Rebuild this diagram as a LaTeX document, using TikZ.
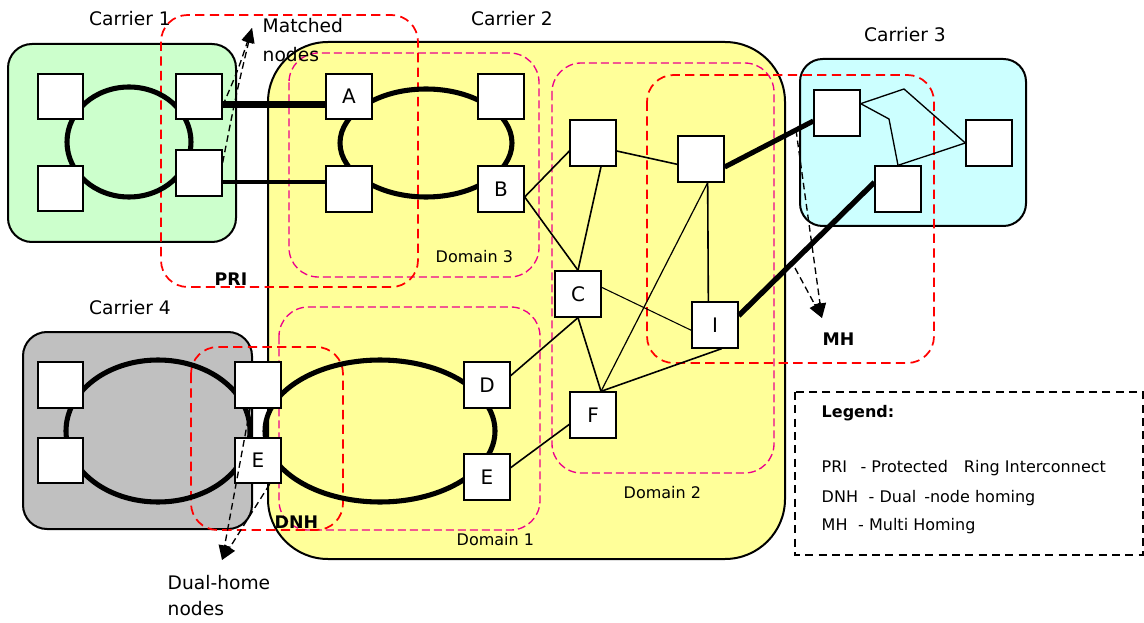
\documentclass[tikz,border=0pt]{standalone}
\usepackage{fontspec}
\setmainfont{DejaVu Sans}
\usetikzlibrary{arrows.meta}

\definecolor{carrgreen}{HTML}{CCFFCC}
\definecolor{carryellow}{HTML}{FFFF99}
\definecolor{carrcyan}{HTML}{CCFFFF}
\definecolor{carrgray}{HTML}{C0C0C0}

\tikzset{
	carrier/.style={draw, line width=1.5pt},
	sq/.style={draw, fill=white, line width=1.5pt, minimum size=34pt, inner sep=0pt, font=\fontsize{15}{17}\selectfont},
	ring/.style={line width=3.8pt},
	link/.style={line width=1.2pt},
	domainbox/.style={draw=magenta, line width=1pt, dash pattern=on 6pt off 3pt, rounded corners=22pt},
	zonebox/.style={draw=red, line width=1.3pt, dash pattern=on 7pt off 4pt, rounded corners=20pt},
	dasharr/.style={dash pattern=on 5pt off 3pt, line width=1pt, -{Triangle[length=11pt,width=9pt]}},
	lbl/.style={font=\fontsize{14}{17}\selectfont},
	dlbl/.style={font=\fontsize{12}{14}\selectfont},
	blbl/.style={font=\bfseries\fontsize{13}{15}\selectfont},
	leg/.style={font=\fontsize{12}{14}\selectfont, anchor=base west},
}
\newcommand{\sqnode}[4]{   % name, x, y, text
	\node[sq] (#1) at (#2, #3) {#4};
}

\begin{document}
\begin{tikzpicture}[x=0.75pt, y=-0.75pt]
\useasboundingbox (0,0) rectangle (1144,623);

% carriers
\draw[carrier, fill=carrgreen, rounded corners=18pt] (8,44) rectangle (236,242);
\draw[carrier, fill=carryellow, rounded corners=45pt] (268,42) rectangle (785,559);
\draw[carrier, fill=carrcyan, rounded corners=17pt] (800,59) rectangle (1026,226);
\draw[carrier, fill=carrgray, rounded corners=18pt] (23,332) rectangle (252,529);
\node[lbl, anchor=base] (lcar1) at (130,26) {Carrier 1};
\node[lbl, anchor=base] (lcar2) at (512,26) {Carrier 2};
\node[lbl, anchor=base] (lcar3) at (905,42) {Carrier 3};
\node[lbl, anchor=base] (lcar4) at (130,314) {Carrier 4};

% domains
\draw[domainbox] (289,53) rectangle (539,277);
\draw[domainbox] (552,63) rectangle (774,473);
\draw[domainbox] (279,307) rectangle (540,530);
\node[dlbl, anchor=base west] (ldom3) at (431,263) {Domain 3};
\node[dlbl, anchor=base west] (ldom2) at (619,498) {Domain 2};
\node[dlbl, anchor=base west] (ldom1) at (452,545) {Domain 1};

% PRI, MH, DNH
\draw[zonebox] (161,15) rectangle (418,287);
\draw[zonebox] (647,75) rectangle (934,363);
\draw[zonebox] (191,347) rectangle (343,530);
\node[blbl, anchor=base west] (lpri) at (210,286) {PRI};
\node[blbl, anchor=base west] (lmh) at (818,345) {MH};
\node[blbl, anchor=base west] (ldnh) at (270,528) {DNH};

% rings
\draw[ring] (129,142) ellipse [x radius=46.5pt, y radius=41.25pt];
\draw[ring] (426,143) ellipse [x radius=64.5pt, y radius=40.5pt];
\draw[ring] (158,431) ellipse [x radius=69pt, y radius=53.25pt];
\draw[ring] (380,431) ellipse [x radius=86.25pt, y radius=53.25pt];

% nodes
\sqnode{c1nw}{60.5}{96.5}{}
\sqnode{c1sw}{60.5}{188.5}{}
\sqnode{c1ne}{199}{96.5}{}
\sqnode{c1se}{199}{173}{}
\sqnode{nA}{349}{96.5}{A}
\sqnode{c2ne}{501}{96.5}{}
\sqnode{c2sw}{349}{189}{}
\sqnode{nB}{501}{189}{B}
\sqnode{g1}{593}{143}{}
\sqnode{g2}{701}{159}{}
\sqnode{nC}{578}{294}{C}
\sqnode{nI}{715}{325}{I}
\sqnode{nF}{593}{415}{F}
\sqnode{nD}{487}{385}{D}
\sqnode{nE}{487}{477}{E}
\sqnode{c3a}{837}{113}{}
\sqnode{c3b}{989}{143}{}
\sqnode{c3c}{898}{189}{}
\sqnode{c4nw}{60.5}{385}{}
\sqnode{c4sw}{60.5}{460.5}{}
\sqnode{c4ne}{258}{385}{}
\sqnode{nE4}{258}{460.5}{E}

% links
\draw[line width=5pt] ([yshift=-6pt]c1ne.east) -- ([yshift=-6pt]nA.west);
\draw[line width=3pt] ([yshift=-7pt]c1se.east) -- ([yshift=5pt]c2sw.west);
\draw[link] ([yshift=-6pt]nB.east) -- ([yshift=-6pt]g1.west);
\draw[link] ([yshift=-6pt]nB.east) -- (nC.north);
\draw[link] ([xshift=6pt]g1.south) -- (nC.north);
\draw[link] ([yshift=-6pt]g1.east) -- ([yshift=-4pt]g2.west);
\draw[line width=0.9pt] ([xshift=5pt]g2.south) -- ([xshift=6pt]nF.north);
\draw[link] ([xshift=5pt]g2.south) -- ([xshift=-5pt]nI.north);
\draw[line width=0.8pt] ([yshift=5pt]nC.east) -- ([yshift=-4pt]nI.west);
\draw[link] (nC.south) -- ([xshift=6pt]nF.north);
\draw[link] (nC.south) -- ([yshift=7pt]nD.east);
\draw[link] ([xshift=5pt]nI.south) -- ([xshift=6pt]nF.north);
\draw[link] ([yshift=-7pt]nF.west) -- ([yshift=7pt]nE.east);
\draw[line width=3.8pt] ([yshift=-6pt]g2.east) -- ([yshift=-6pt]c3a.west);
\draw[line width=4pt] ([yshift=7pt]nI.east) -- ([yshift=5pt]c3c.west);
\draw[line width=1pt] ([yshift=7pt]c3a.east) -- (904,89) -- (c3b.west);
\draw[line width=1pt] ([yshift=7pt]c3a.east) -- (889,119) -- (c3c.north);
\draw[line width=1pt] (c3c.north) -- (c3b.west);

% legend
\draw[line width=1.5pt, dash pattern=on 6pt off 4pt] (795,392) rectangle (1143,555);
\node[leg, font=\bfseries\fontsize{12}{14}\selectfont] (lghead) at (817,417) {Legend:};
\node[leg] (lgpri) at (817,472) {PRI\hspace{10pt}- Protected\hspace{12pt}Ring Interconnect};
\node[leg] (lgdnh) at (817,502) {DNH\hspace{8pt}- Dual\hspace{6pt}-node homing};
\node[leg] (lgmh) at (817,530) {MH\hspace{8pt}- Multi Homing};

% dashed pointers
\coordinate (mtip) at (252,28);
\coordinate (dtip) at (222,560);
\coordinate (mhtip) at (822,318);
\coordinate (mh1) at (796,130);
\coordinate (mh2) at (795,268);
\draw[dasharr] ([yshift=-7pt]c1ne.east) .. controls (238,70) .. (mtip);
\draw[dasharr] ([yshift=-10pt]c1se.north east) .. controls (236,95) .. (mtip);
\draw[dasharr] ([xshift=-6pt]c4ne.south) -- (dtip);
\draw[dasharr] ([xshift=-9pt]nE4.south east) -- (dtip);
\draw[dasharr] (mh1) -- (mhtip);
\draw[dasharr] (mh2) -- (mhtip);
\node[lbl, anchor=base west] (lmatch) at (258,33) {Matched};
\node[lbl, anchor=base west] (lmatch2) at (258,62) {nodes};
\node[lbl, anchor=base west] (ldual) at (163,589) {Dual-home};
\node[lbl, anchor=base west] (ldual2) at (163,615) {nodes};
\end{tikzpicture}
\end{document}
